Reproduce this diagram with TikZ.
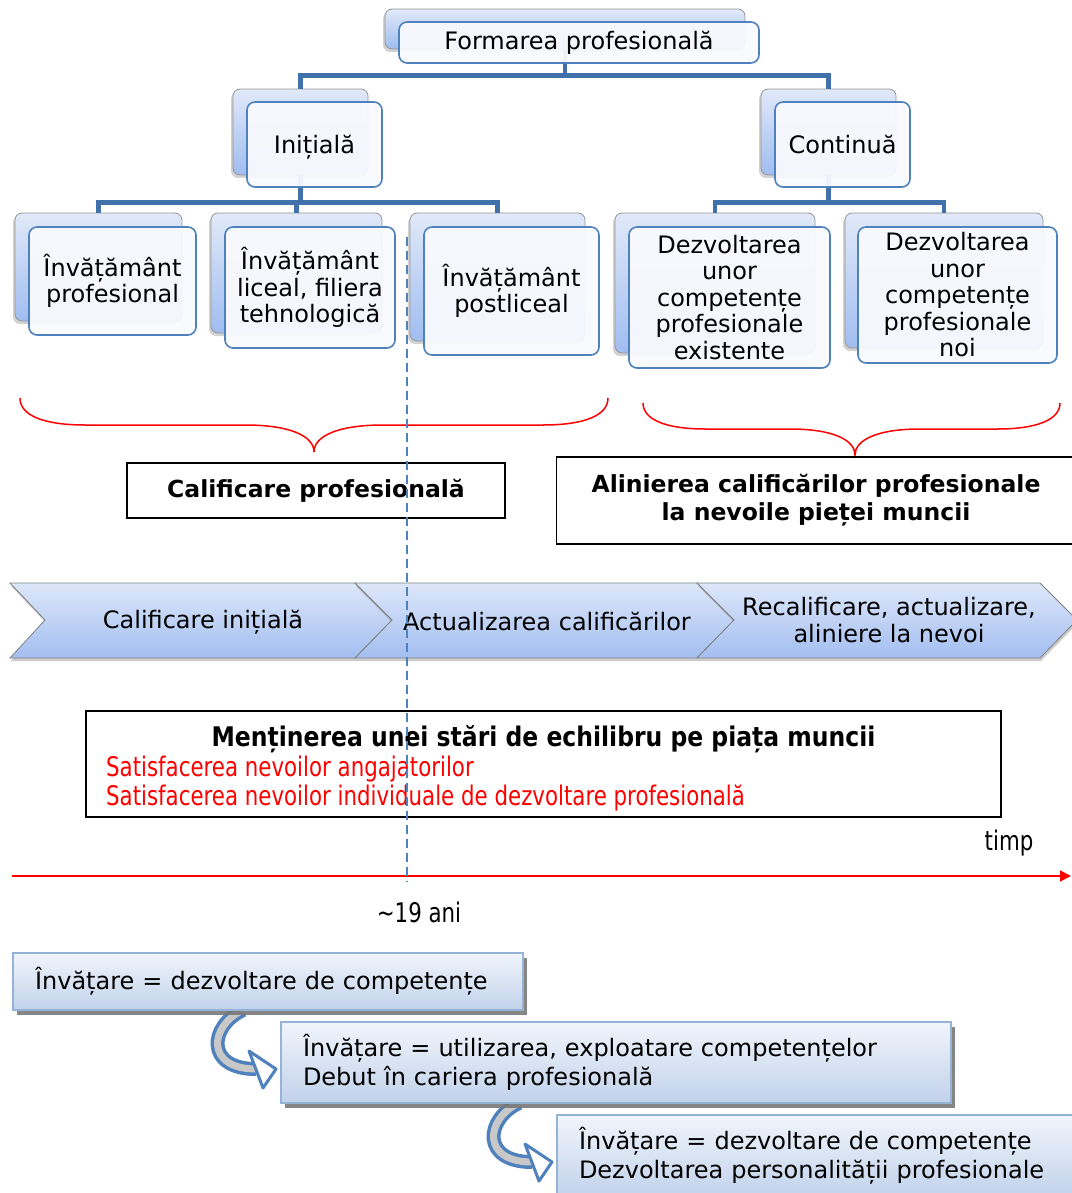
\documentclass[tikz,border=0pt]{standalone}
\usepackage{fontspec}
\setmainfont{DejaVu Sans}
\newfontfamily\narrowfont[FakeStretch=0.79]{DejaVu Sans}
\newfontfamily\narrowbold[FakeStretch=0.87]{DejaVu Sans}
\usetikzlibrary{shadows,arrows.meta,calc}

\definecolor{busblue}{RGB}{65,113,170}
\definecolor{edgeblue}{RGB}{79,129,189}
\definecolor{cardtop}{RGB}{225,233,249}
\definecolor{cardbot}{RGB}{160,189,240}
\definecolor{cardface}{RGB}{249,250,254}
\definecolor{cardline}{RGB}{150,150,150}
\definecolor{chevtop}{RGB}{221,231,250}
\definecolor{chevbot}{RGB}{163,190,240}
\definecolor{chevline}{RGB}{128,128,128}
\definecolor{paneltop}{RGB}{241,245,251}
\definecolor{panelbot}{RGB}{193,210,235}
\definecolor{panelline}{RGB}{149,179,215}
\definecolor{bandgray}{RGB}{200,200,200}

\tikzset{
  basefont/.style={font=\fontsize{24}{26.5}\selectfont},
  narrowtext/.style={inner sep=0, font=\narrowfont\fontsize{27}{29}\selectfont},
  cardback/.style={draw=cardline, line width=0.8, rounded corners=7,
    top color=cardtop, bottom color=cardbot, inner sep=0,
    drop shadow={shadow xshift=-2pt, shadow yshift=-3pt, opacity=0.35}},
  cardfront/.style={draw=edgeblue, line width=1.6, rounded corners=8,
    fill=cardface, fill opacity=0.94, text opacity=1, inner sep=0,
    align=center, basefont},
  bus/.style={draw=busblue, line width=4.5},
  brace/.style={draw=red, line width=1.5},
  labelbox/.style={draw=black, line width=1.8, inner sep=0},
  chevron/.style={draw=chevline, line width=0.8, top color=chevtop,
    bottom color=chevbot,
    drop shadow={shadow xshift=1pt, shadow yshift=-3pt, opacity=0.4}},
  chevtext/.style={basefont, align=center, inner sep=0},
  panel/.style={draw=panelline, line width=2.2, top color=paneltop,
    bottom color=panelbot, inner sep=0, align=left,
    font=\fontsize{24}{29}\selectfont,
    drop shadow={shadow xshift=4pt, shadow yshift=-5pt,
      fill={rgb,255:red,120;green,120;blue,120}, opacity=0.9}},
  uturn/.pic={
    \draw[draw=edgeblue, line width=14] (-38,-12) .. controls (-72,4) and (-76,47) .. (-25,47);
    \draw[draw=bandgray, line width=7] (-38,-12) .. controls (-72,4) and (-76,47) .. (-25,47);
    \draw[draw=edgeblue, line width=3, fill=white, line join=round]
      (-32,29) -- (-5,47) -- (-18,66) -- cycle;
  }
}

\begin{document}
\begin{tikzpicture}[x=1pt, y=-1pt]
\useasboundingbox (0,0) rectangle (1071,1193);
\fill[white] (0,0) rectangle (1071,1193);

% ---------- tree: back cards ----------
\node[cardback, minimum width=360, minimum height=40] (rootb) at (565,29) {};
\node[cardback, minimum width=135, minimum height=86] (inib) at (300.5,132) {};
\node[cardback, minimum width=135, minimum height=86] (contb) at (828.5,132) {};
\node[cardback, minimum width=167, minimum height=108] (b1b) at (98.5,267) {};
\node[cardback, minimum width=171, minimum height=120] (b2b) at (296.5,273) {};
\node[cardback, minimum width=175, minimum height=128] (b3b) at (497.5,277) {};
\node[cardback, minimum width=200, minimum height=140] (b4b) at (715,283) {};
\node[cardback, minimum width=198, minimum height=135] (b5b) at (944,280.5) {};

% ---------- tree: bus lines ----------
\draw[bus] (rootb.south) -- ++(0,26) -| (inib.north);
\draw[bus] (rootb.south) -- ++(0,26) -| (contb.north);
\draw[bus] (inib.south) -- ++(0,27) -| (b1b.north);
\draw[bus] (inib.south) -- ++(0,27) -| (b2b.north);
\draw[bus] (inib.south) -- ++(0,27) -| (b3b.north);
\draw[bus] (contb.south) -- ++(0,27) -| (b4b.north);
\draw[bus] (contb.south) -- ++(0,27) -| (b5b.north);

% ---------- tree: front cards ----------
\node[cardfront, minimum width=360, minimum height=41] (root) at (579,42.5) {Formarea profesională};
\node[cardfront, minimum width=135, minimum height=85, text depth=0pt] (ini) at (314.5,144.5) {Inițială};
\node[cardfront, minimum width=135, minimum height=85] (cont) at (842.5,144.5) {Continuă};
\node[cardfront, minimum width=167, minimum height=108] (b1) at (112.5,281) {Învățământ\\profesional};
\node[cardfront, minimum width=170, minimum height=121] (b2) at (310,287.5) {Învățământ\\liceal, filiera\\tehnologică};
\node[cardfront, minimum width=175, minimum height=128] (b3) at (511.5,291) {Învățământ\\postliceal};
\node[cardfront, minimum width=201, minimum height=141] (b4) at (729.5,297.5) {Dezvoltarea\\unor\\competențe\\profesionale\\existente};
\node[cardfront, minimum width=199, minimum height=136] (b5) at (957.5,295) {Dezvoltarea\\unor\\competențe\\profesionale\\noi};

% ---------- braces ----------
\coordinate (lbtip) at (314,452);
\coordinate (rbtip) at (855,455);
\draw[brace] (20,398) .. controls (20,416) and (45,425) .. (85,425) -- (245,425)
  .. controls (290,425) and (314,436) .. (lbtip)
  .. controls (314,436) and (338,425) .. (383,425) -- (543,425)
  .. controls (583,425) and (608,416) .. (608,398);
\draw[brace] (643,403) .. controls (643,420) and (667,429) .. (705,429) -- (790,429)
  .. controls (833,429) and (855,440) .. (rbtip)
  .. controls (855,440) and (877,429) .. (920,429) -- (998,429)
  .. controls (1036,429) and (1060,420) .. (1060,403);

\node[labelbox, minimum width=378, minimum height=55] (calif) at (316,490.5)
  {\fontsize{23.5}{26.5}\selectfont\bfseries Calificare profesională};
\node[labelbox, minimum width=519, minimum height=87] (alin) at (816,500.5) {};
\node[align=center, inner sep=0, font=\fontsize{23.5}{28}\selectfont\bfseries] (alint) at (816,500.5)
  {Alinierea calificărilor profesionale\\la nevoile pieței muncii};

% ---------- chevrons ----------
\draw[chevron] (10,583) -- (355,583) -- (392,620) -- (355,658) -- (10,658) -- (45,620) -- cycle;
\draw[chevron] (355,583) -- (697,583) -- (734,620) -- (697,658) -- (355,658) -- (392,620) -- cycle;
\draw[chevron] (697,583) -- (1040,583) -- (1077,620) -- (1040,658) -- (697,658) -- (734,620) -- cycle;
\node[chevtext] (ch1) at (203,622) {Calificare inițială};
\node[chevtext] (ch2) at (547,621) {Actualizarea calificărilor};
\node[chevtext] (ch3) at (889,620) {Recalificare, actualizare,\\aliniere la nevoi};

% ---------- balance box ----------
\node[labelbox, minimum width=915, minimum height=106] (echil) at (543.5,764) {};
\node[inner sep=0, font=\narrowbold\fontsize{27}{29}\selectfont\bfseries] (echt) at (543.5,739)
  {Menținerea unei stări de echilibru pe piața muncii};
\node[narrowtext, anchor=west, text=red] (sat1) at (106,769)
  {Satisfacerea nevoilor angajatorilor};
\node[narrowtext, anchor=west, text=red] (sat2) at (106,798)
  {Satisfacerea nevoilor individuale de dezvoltare profesională};

% ---------- time axis ----------
\coordinate (ax0) at (12,876);
\coordinate (ax1) at (1071,876);
\draw[red, line width=1.6, -{Triangle[length=11pt, width=11pt]}] (ax0) -- (ax1);
\node[narrowtext] (timp) at (1009,843) {timp};
\node[narrowtext] (age) at (419,912) {\textasciitilde19 ani};

% ---------- learning stages ----------
\pic (arr1) at (281,1022) {uturn};
\pic (arr2) at (557,1115) {uturn};
\node[panel, minimum width=510, minimum height=57, text width=466] (pa) at (268,981.5)
  {Învățare = dezvoltare de competențe};
\node[panel, minimum width=670, minimum height=81, text width=626] (pb) at (616,1062.5)
  {Învățare = utilizarea, exploatare competențelor\\Debut în cariera profesională};
\node[panel, minimum width=533, minimum height=82, text width=489] (pc) at (823.5,1156)
  {Învățare = dezvoltare de competențe\\Dezvoltarea personalității profesionale};

% ---------- age marker ----------
\coordinate (dv0) at (407,237);
\coordinate (dv1) at (407,882);
\draw[edgeblue, line width=1.8, dash pattern=on 9pt off 5pt] (dv0) -- (dv1);
\end{tikzpicture}
\end{document}
